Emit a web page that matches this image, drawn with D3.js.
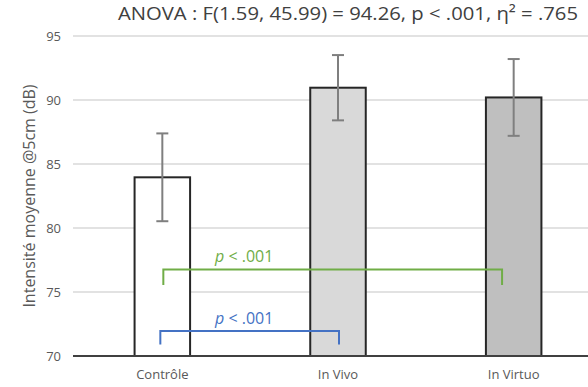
<!DOCTYPE html>
<html>
<head>
<meta charset="utf-8">
<script src="https://cdn.jsdelivr.net/npm/d3@7"></script>
<style>
  body { margin: 0; background: #fff; }
  text { font-family: "Open Sans", sans-serif; }
</style>
</head>
<body>
<div class="chart"></div>
<script>
// data
var categories = ["Contrôle", "In Vivo", "In Virtuo"];
var means = [83.96, 90.96, 90.2];
var errors = [3.43, 2.55, 3.0];
var fills = ["#ffffff", "#d9d9d9", "#bfbfbf"];
var yTicks = [70, 75, 80, 85, 90, 95];

// significance brackets: from / to category, line level, foot level
var brackets = [
  { from: 0, to: 2, level: 76.75, foot: 75.55, label: "p < .001", color: "#70ad47" },
  { from: 0, to: 1, level: 71.95, foot: 70.9, label: "p < .001", color: "#4472c4" }
];

var title = "ANOVA : F(1.59, 45.99) = 94.26, p < .001, η² = .765";
var yLabel = "Intensité moyenne @5cm (dB)";

var width = 588, height = 387;

var svg = d3.select(".chart").append("svg")
  .attr("width", width)
  .attr("height", height);

var y = d3.scaleLinear().domain([70, 95]).range([356, 36]);
var x = d3.scaleBand().domain(categories)
  .range([74.5, 601.5])
  .paddingInner(0.684)
  .paddingOuter(0.342);

function cx(i) { return x(categories[i]) + x.bandwidth() / 2; }

// gridlines
svg.selectAll("line.grid")
  .data(yTicks.slice(1))
  .enter().append("line")
  .attr("class", "grid")
  .attr("x1", 73).attr("x2", width)
  .attr("y1", function(d) { return y(d); })
  .attr("y2", function(d) { return y(d); })
  .attr("stroke", "#d9d9d9")
  .attr("stroke-width", 1.5);

// y tick labels
var yAxis = svg.append("g")
  .attr("transform", "translate(73,0)")
  .call(d3.axisLeft(y).tickValues(yTicks).tickSize(0).tickPadding(12));
yAxis.select(".domain").remove();
yAxis.selectAll("text")
  .attr("fill", "#595959")
  .style("font-size", "13px")
  .style("font-family", "'Open Sans', sans-serif");

// bars
svg.selectAll("rect.bar")
  .data(means)
  .enter().append("rect")
  .attr("class", "bar")
  .attr("x", function(d, i) { return x(categories[i]); })
  .attr("width", x.bandwidth())
  .attr("y", function(d) { return y(d); })
  .attr("height", function(d) { return y(70) - y(d); })
  .attr("fill", function(d, i) { return fills[i]; })
  .attr("stroke", "#262626")
  .attr("stroke-width", 2);

// error bars
var eb = svg.selectAll("g.err")
  .data(means)
  .enter().append("g")
  .attr("class", "err")
  .attr("stroke", "#7f7f7f")
  .attr("stroke-width", 2);
eb.append("line")
  .attr("x1", function(d, i) { return cx(i); })
  .attr("x2", function(d, i) { return cx(i); })
  .attr("y1", function(d, i) { return y(d + errors[i]); })
  .attr("y2", function(d, i) { return y(d - errors[i]); });
eb.append("line")
  .attr("x1", function(d, i) { return cx(i) - 6; })
  .attr("x2", function(d, i) { return cx(i) + 6; })
  .attr("y1", function(d, i) { return y(d + errors[i]); })
  .attr("y2", function(d, i) { return y(d + errors[i]); });
eb.append("line")
  .attr("x1", function(d, i) { return cx(i) - 6; })
  .attr("x2", function(d, i) { return cx(i) + 6; })
  .attr("y1", function(d, i) { return y(d - errors[i]); })
  .attr("y2", function(d, i) { return y(d - errors[i]); });

// base axis line
svg.append("line")
  .attr("x1", 73).attr("x2", width)
  .attr("y1", y(70)).attr("y2", y(70))
  .attr("stroke", "#404040")
  .attr("stroke-width", 2);

// category labels
var xAxis = svg.append("g")
  .attr("transform", "translate(0," + y(70) + ")")
  .call(d3.axisBottom(x).tickSize(0).tickPadding(14));
xAxis.select(".domain").remove();
xAxis.selectAll("text")
  .attr("fill", "#595959")
  .style("font-size", "13px")
  .style("font-family", "'Open Sans', sans-serif");

// brackets (ends nudged a little like the original drawing)
var leftNudge = [1, -2], rightNudge = [-11.6, 1];
brackets.forEach(function(b, k) {
  var x1 = cx(b.from) + leftNudge[k], x2 = cx(b.to) + rightNudge[k];
  svg.append("path")
    .attr("d", "M" + x1 + "," + y(b.foot) + "V" + y(b.level) + "H" + x2 + "V" + y(b.foot))
    .attr("fill", "none")
    .attr("stroke", b.color)
    .attr("stroke-width", 2);
  var t = svg.append("text")
    .attr("x", (cx(0) + cx(1)) / 2 - 6)
    .attr("y", y(b.level) - 7.5)
    .attr("text-anchor", "middle")
    .attr("fill", b.color)
    .style("font-size", "16px");
  t.append("tspan").style("font-style", "italic").text("p");
  t.append("tspan").text(b.label.slice(1));
});

// title
svg.append("text")
  .attr("x", 348)
  .attr("y", 20)
  .attr("text-anchor", "middle")
  .attr("fill", "#404040")
  .style("font-size", "19px")
  .attr("textLength", 460)
  .attr("lengthAdjust", "spacingAndGlyphs")
  .text(title);

// y axis title
svg.append("text")
  .attr("transform", "translate(35,196) rotate(-90)")
  .attr("text-anchor", "middle")
  .attr("fill", "#595959")
  .style("font-size", "16px")
  .text(yLabel);
</script>
</body>
</html>
